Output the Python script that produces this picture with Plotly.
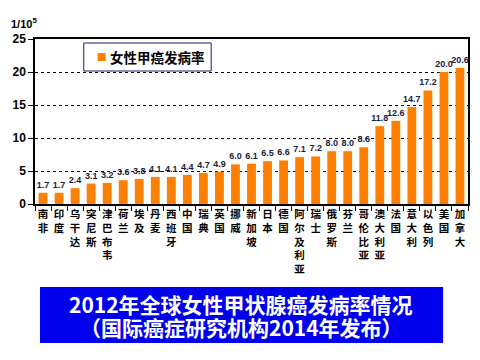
import plotly.graph_objects as go

countries = ["南非", "印度", "乌干达", "突尼斯", "津巴布韦", "荷兰", "埃及", "丹麦", "西班牙",
             "中国", "瑞典", "英国", "挪威", "新加坡", "日本", "德国", "阿尔及利亚", "瑞士",
             "俄罗斯", "芬兰", "哥伦比亚", "澳大利亚", "法国", "意大利", "以色列", "美国", "加拿大"]
rates = [1.7, 1.7, 2.4, 3.1, 3.2, 3.6, 3.8, 4.1, 4.1, 4.4, 4.7, 4.9, 6.0, 6.1, 6.5, 6.6,
         7.1, 7.2, 8.0, 8.0, 8.6, 11.8, 12.6, 14.7, 17.2, 20.0, 20.6]
y_ticks = [0, 5, 10, 15, 20, 25]
series_name = "女性甲癌发病率"
title_lines = ["2012年全球女性甲状腺癌发病率情况", "（国际癌症研究机构2014年发布）"]

FONT = "Noto Sans CJK SC, Noto Sans, sans-serif"
NUMFONT = "Liberation Sans Narrow, Liberation Sans, Arial, sans-serif"
BAR = "#FF8000"
tick_text = ["<b>" + "<br>".join(list(c)) + "</b>" for c in countries]

def px_x(p):
    return (p - 35) / 435.0

def px_y(p):
    return (204 - p) / 165.0

fig = go.Figure()
fig.add_trace(go.Bar(
    x=countries, y=rates, name=series_name,
    marker=dict(color=BAR, line=dict(width=0)),
    width=0.55,
    text=[f"<b>{v:.1f}</b>" for v in rates], textposition="outside",
    constraintext="none",
    textfont=dict(size=9, color="#1a1a40", family=NUMFONT),
    cliponaxis=False, showlegend=False,
))

fig.update_layout(
    width=480, height=360,
    margin=dict(l=35, r=10, t=39, b=156),
    paper_bgcolor="white", plot_bgcolor="white",
    font=dict(family=FONT, color="black"),
    showlegend=False,
    xaxis=dict(tickmode="array", tickvals=countries, ticktext=tick_text,
               tickangle=0, tickfont=dict(size=10.5, color="black", family=FONT),
               showline=True, linecolor="black", linewidth=1.5, mirror=True,
               ticks="outside", tickson="boundaries", ticklen=5, tickcolor="black",
               showgrid=False),
    yaxis=dict(range=[0, 25], tickvals=y_ticks, ticktext=[f"<b>{t}</b>" for t in y_ticks],
               tickfont=dict(size=12, color="black", family="Liberation Sans, Arial, sans-serif"),
               showline=True, linecolor="black", linewidth=1.5, mirror=True,
               ticks="outside", ticklen=5, tickcolor="black",
               showgrid=True, gridcolor="black", griddash="dot", gridwidth=1,
               zeroline=False),
)

# y unit label
fig.add_annotation(xref="paper", yref="paper", x=px_x(9), y=px_y(23), xanchor="left", yanchor="middle",
                   text="<b>1/10<sup>5</sup></b>", showarrow=False,
                   font=dict(size=11, color="black", family="Liberation Sans, Arial, sans-serif"))

# legend box
fig.add_shape(type="rect", xref="paper", yref="paper", x0=px_x(84), x1=px_x(212), y0=px_y(71), y1=px_y(43),
              fillcolor="white", line=dict(color="#1a1a80", width=1), layer="above")
fig.add_shape(type="rect", xref="paper", yref="paper", x0=px_x(98), x1=px_x(106), y0=px_y(61), y1=px_y(53),
              fillcolor=BAR, line=dict(width=0), layer="above")
fig.add_annotation(xref="paper", yref="paper", x=px_x(108), y=px_y(57), xanchor="left", yanchor="middle",
                   text="<b>" + series_name + "</b>", showarrow=False,
                   font=dict(size=13.5, color="black", family=FONT))

# title box
fig.add_shape(type="rect", xref="paper", yref="paper", x0=px_x(40), x1=px_x(445), y0=px_y(343), y1=px_y(287),
              fillcolor="#0000EE", line=dict(width=0), layer="above")
for txt, yc in zip(title_lines, [304, 327]):
    fig.add_annotation(xref="paper", yref="paper", x=px_x(242), y=px_y(yc), xanchor="center", yanchor="middle",
                       text="<b>" + txt + "</b>", showarrow=False,
                       font=dict(size=21, color="white", family=FONT))

fig.write_html("out.html", config={"displayModeBar": False},
               post_script="document.body.style.margin='0';document.body.style.overflow='hidden';")
